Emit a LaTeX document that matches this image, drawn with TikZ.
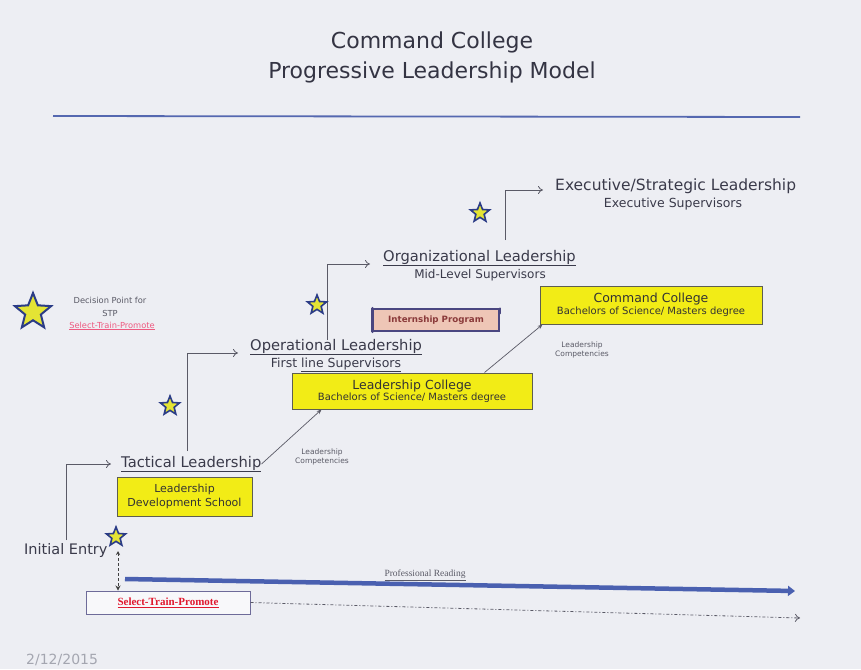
\documentclass[tikz,border=0pt]{standalone}
\usepackage{fontspec}
\setmainfont{DejaVu Sans}
\newfontfamily\serifx{Liberation Serif}
\usetikzlibrary{arrows.meta,shapes.geometric,calc}
\definecolor{bg}{HTML}{EDEEF3}
\definecolor{txt}{HTML}{3A3A4A}
\definecolor{rule}{HTML}{5568B0}
\definecolor{ybox}{HTML}{F2EC16}
\definecolor{yborder}{HTML}{5E5E50}
\definecolor{starfill}{HTML}{E4E434}
\definecolor{starline}{HTML}{2B3C86}
\definecolor{lgray}{HTML}{5A5A66}
\definecolor{salmon}{HTML}{EEC6B6}
\definecolor{ipborder}{HTML}{4A4680}
\definecolor{iptext}{HTML}{8A3A3A}
\definecolor{redtxt}{HTML}{E0182E}
\definecolor{pinktxt}{HTML}{EE5A80}
\definecolor{reading}{HTML}{4A60B0}
\definecolor{datecol}{HTML}{A4A6B0}
\tikzset{
  lead/.style={font=\fontsize{14.7}{17}\selectfont, text=txt, inner sep=0pt},
  subl/.style={font=\fontsize{12}{14}\selectfont, text=txt, inner sep=0pt},
  tiny/.style={font=\fontsize{7.5}{9.5}\selectfont, text=lgray, align=center, inner sep=0pt},
  ylw/.style={draw=yborder, fill=ybox, line width=1pt, align=center, inner sep=0pt, text=black!80},
  dpstar/.style={star, star points=5, star point ratio=2.3, fill=starfill, draw=starline, line width=1.6pt, inner sep=0pt, minimum size=20pt},
  elbow/.style={draw=lgray, line width=0.8pt, -{To[length=5pt,width=8pt]}},
  thinarr/.style={draw=lgray, line width=0.7pt, -{Stealth[length=5pt,width=4pt]}},
}
\begin{document}
\begin{tikzpicture}[x=1pt,y=-1pt]
\fill[bg] (0,0) rectangle (861,669);
\useasboundingbox (0,0) rectangle (861,669);

% title
\node[font=\fontsize{22}{30}\selectfont, text=txt!90!black, align=center] (title) at (432,57) {Command College\\Progressive Leadership Model};
\coordinate (r1) at (53,116);
\coordinate (r2) at (800,117);
\draw[rule, line width=1.8pt] (r1) -- (r2);

% leadership levels
\node[lead, font=\fontsize{15.5}{18}\selectfont, anchor=west] (exec) at (555,186) {Executive/Strategic Leadership};
\node[subl, font=\fontsize{12.5}{14}\selectfont] (execsub) at (673,204) {Executive Supervisors};
\node[lead, anchor=west] (org) at (383,258) {\underline{Organizational Leadership}};
\node[subl] (orgsub) at (480,275) {Mid-Level Supervisors};
\node[lead, anchor=west] (op) at (250,347) {\underline{Operational Leadership}};
\node[subl, font=\fontsize{12.5}{14}\selectfont] (opsub) at (336,365) {First \underline{line Supervisors}};
\node[lead, anchor=west] (tac) at (121,464) {\underline{Tactical Leadership}};
\node[lead, font=\fontsize{14.5}{16}\selectfont, anchor=west] (init) at (24,550) {Initial Entry};

% elbow connectors
\coordinate (e1) at (66,540);
\coordinate (e2) at (187,451);
\coordinate (e3) at (327,340);
\coordinate (e4) at (505,240);
\draw[elbow, shorten >=10pt] (e1) |- (tac.west);
\draw[elbow] (e2) |- (238,353) coordinate (t2);
\draw[elbow] (e3) |- (370,264) coordinate (t3);
\draw[elbow] (e4) |- (543,190) coordinate (t4);

% stars
\node[dpstar] (s1) at (116,537) {};
\node[dpstar] (s2) at (170,406) {};
\node[dpstar] (s3) at (317,305) {};
\node[dpstar] (s4) at (480,213) {};

% boxes
\node[ylw, minimum width=135pt, minimum height=39pt, font=\fontsize{11}{14}\selectfont] (lds) at (184.5,496.5) {Leadership\\Development School};
\node[ylw, minimum width=240pt, minimum height=36pt] (lc) at (412,391)
  {{\fontsize{12.5}{14}\selectfont Leadership College}\\[-1pt]{\fontsize{10}{11}\selectfont Bachelors of Science/ Masters degree}};
\node[ylw, minimum width=222pt, minimum height=38pt] (cc) at (651,305)
  {{\fontsize{12.5}{14}\selectfont Command College}\\[0pt]{\fontsize{10}{11}\selectfont Bachelors of Science/ Masters degree}};
\node[draw=ipborder, fill=salmon, line width=1.2pt, minimum width=126pt, minimum height=22pt, inner sep=0pt,
  font=\fontsize{8.7}{10}\selectfont\bfseries, text=iptext] (ip) at (436,320) {Internship Program};
\draw[ipborder, line width=3pt, line cap=round] (ip.north west) -- (ip.south west);
\draw[ipborder, line width=2pt, line cap=round] (ip.north east) -- ($(ip.north east)+(0,5)$);

% competency arrows
\draw[thinarr] (tac.east) -- ($(lc.south west)+(30,0)$);
\draw[thinarr] ($(lc.north west)+(193,0)$) -- ($(cc.south west)+(3,0)$);
\node[tiny] (comp1) at (322,457) {Leadership\\Competencies};
\node[tiny] (comp2) at (582,350) {Leadership\\Competencies};

% bottom section
\node[draw=ipborder!80, fill=white!60!bg, line width=1pt, minimum width=164pt, minimum height=23pt, inner sep=0pt,
  font=\serifx\fontsize{11}{12}\selectfont\bfseries, text=redtxt] (stp) at (168,602.5) {\underline{Select-Train-Promote}};
\coordinate (d1) at (118,551);
\draw[black!75, line width=0.8pt, densely dashed, {Stealth[length=4pt,width=4pt]}-{Stealth[length=5pt,width=5pt]}] (d1) -- (stp.north -| d1);

\coordinate (pr1) at (125,579);
\coordinate (pr2) at (795,591);
\draw[reading, line width=4.5pt, -{Triangle[length=7pt,width=10pt]}] (pr1) -- (pr2);
\node[font=\serifx\fontsize{9.5}{10}\selectfont, text=lgray, inner sep=0pt] (prl) at (425,575) {\underline{Professional Reading}};

\coordinate (dd2) at (800,618);
\draw[lgray, line width=0.8pt, dash pattern=on 3pt off 2pt on 1pt off 2pt, -{To[length=5pt,width=8pt]}] (stp.east) -- (dd2);

% legend
\node[dpstar, minimum size=38pt, line width=2pt] (ls) at (33,312) {};
\node[tiny, font=\fontsize{8.3}{10}\selectfont] (leg1) at (110,300) {Decision Point for};
\node[tiny, font=\fontsize{8.3}{10}\selectfont] (leg2) at (110,313) {STP};
\node[tiny, font=\fontsize{8.3}{10}\selectfont, text=pinktxt] (leg3) at (112,326) {\underline{Select-Train-Promote}};

% date
\node[font=\fontsize{14}{16}\selectfont, text=datecol, anchor=west, inner sep=0pt] (date) at (26,660) {2/12/2015};
\end{tikzpicture}
\end{document}
